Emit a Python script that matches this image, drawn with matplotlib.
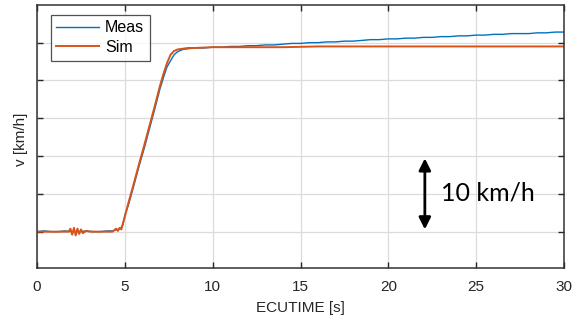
import matplotlib
matplotlib.use("Agg")
import matplotlib.pyplot as plt

plt.rcParams['font.family'] = ['Liberation Sans', 'DejaVu Sans']

# ---- data ----
meas_t = [0.0, 0.4, 0.8, 1.2, 1.6, 2.0, 2.4, 2.8, 3.2, 3.6, 4.0, 4.3, 4.6, 4.75,
          4.9, 5.0, 5.2, 5.5, 5.8, 6.1, 6.4, 6.7, 7.0, 7.2, 7.4, 7.6, 7.8, 8.0,
          8.3, 8.6, 9.0, 9.5, 10.0, 10.5, 11.0, 11.5, 12.0, 12.5, 13.0, 13.5,
          14.0, 14.5, 15.0, 15.5, 16.0, 16.5, 17.0, 17.5, 18.0, 18.5, 19.0,
          19.5, 20.0, 20.5, 21.0, 21.5, 22.0, 22.5, 23.0, 23.5, 24.0, 24.5,
          25.0, 25.5, 26.0, 26.5, 27.0, 27.5, 28.0, 28.5, 29.0, 29.5, 30.0]
meas_v = [10.0, 10.1, 10.0, 10.0, 10.1, 10.0, 10.0, 10.1, 10.0, 10.0, 10.1, 10.1, 10.3, 10.4,
          11.0, 12.2, 13.5, 16.0, 18.6, 21.0, 23.6, 26.2, 28.9, 30.4, 31.8, 32.6, 33.4, 33.8,
          34.1, 34.2, 34.3, 34.3, 34.4, 34.4, 34.5, 34.5, 34.6, 34.6, 34.7, 34.7,
          34.8, 34.9, 34.9, 35.0, 35.0, 35.1, 35.1, 35.2, 35.2, 35.3, 35.4,
          35.4, 35.5, 35.5, 35.6, 35.6, 35.7, 35.7, 35.8, 35.8, 35.9, 35.9,
          36.0, 36.0, 36.1, 36.1, 36.2, 36.2, 36.2, 36.3, 36.3, 36.4, 36.4]

sim_t = [0.0, 1.0, 1.8, 1.9, 2.0, 2.1, 2.2, 2.3, 2.4, 2.5, 2.6, 2.8, 3.0, 4.0, 4.3,
         4.5, 4.6, 4.7, 4.8, 4.9, 5.0, 5.2, 5.5, 5.8, 6.1, 6.4, 6.7, 7.0, 7.2, 7.4,
         7.6, 7.8, 8.0, 8.3, 8.6, 9.0, 10.0, 12.0, 14.0, 16.0, 18.0, 20.0, 22.0,
         24.0, 26.0, 28.0, 30.0]
sim_v = [10.0, 10.0, 10.0, 10.4, 9.6, 10.5, 9.5, 10.4, 9.7, 10.3, 9.8, 10.1, 10.0, 10.0, 10.0,
         10.4, 10.1, 10.5, 10.3, 11.2, 12.0, 13.8, 16.3, 18.9, 21.4, 24.0, 26.6, 29.3, 30.9, 32.3,
         33.4, 33.9, 34.1, 34.2, 34.3, 34.3, 34.4, 34.4, 34.4, 34.5, 34.5, 34.5, 34.5,
         34.5, 34.5, 34.5, 34.5]

xticks = [0, 5, 10, 15, 20, 25, 30]
yticks = [10, 15, 20, 25, 30, 35]

fig = plt.figure(figsize=(5.79, 3.24), dpi=100)
ax = fig.add_axes([0.064, 0.173, 0.910, 0.812])

ax.plot(meas_t, meas_v, color='#0072BD', lw=1.0, label='Meas')
ax.plot(sim_t, sim_v, color='#D95319', lw=1.4, label='Sim')

ax.set_xlim(0, 30)
ax.set_ylim(5.2, 40)
ax.set_xticks(xticks)
ax.set_yticks(yticks)
ax.set_yticklabels([])
ax.grid(True, color='#dcdcdc', lw=0.9)
ax.set_axisbelow(True)
ax.tick_params(direction='in', top=True, right=True, length=4.5, width=1.0,
               color='#262626', labelsize=11, labelcolor='#262626', pad=9)
for s in ax.spines.values():
    s.set_color('#333333')
    s.set_linewidth(1.1)

ax.set_xlabel('ECUTIME [s]', fontsize=11, color='#262626', labelpad=5)
ax.set_ylabel('v [km/h]', fontsize=11, color='#262626')
ax.yaxis.set_label_coords(-0.018, 0.49)

leg = ax.legend(loc='upper left', bbox_to_anchor=(0.026, 0.963), fontsize=11.5,
                handlelength=2.7, frameon=True, fancybox=False, borderpad=0.35,
                labelspacing=0.3, handletextpad=0.35, borderaxespad=0)
leg.get_frame().set_edgecolor('#262626')
leg.get_frame().set_linewidth(0.9)

ax.annotate('', xy=(22.08, 10.3), xytext=(22.08, 19.7),
            arrowprops=dict(arrowstyle='<|-|>,head_length=0.7,head_width=0.35',
                            color='black', lw=2, shrinkA=0, shrinkB=0))
ax.text(23.0, 15.1, '10 km/h', fontsize=18, family=['Lato', 'DejaVu Sans'],
        va='center', ha='left', color='black')

fig.savefig('out.png', dpi=100)
